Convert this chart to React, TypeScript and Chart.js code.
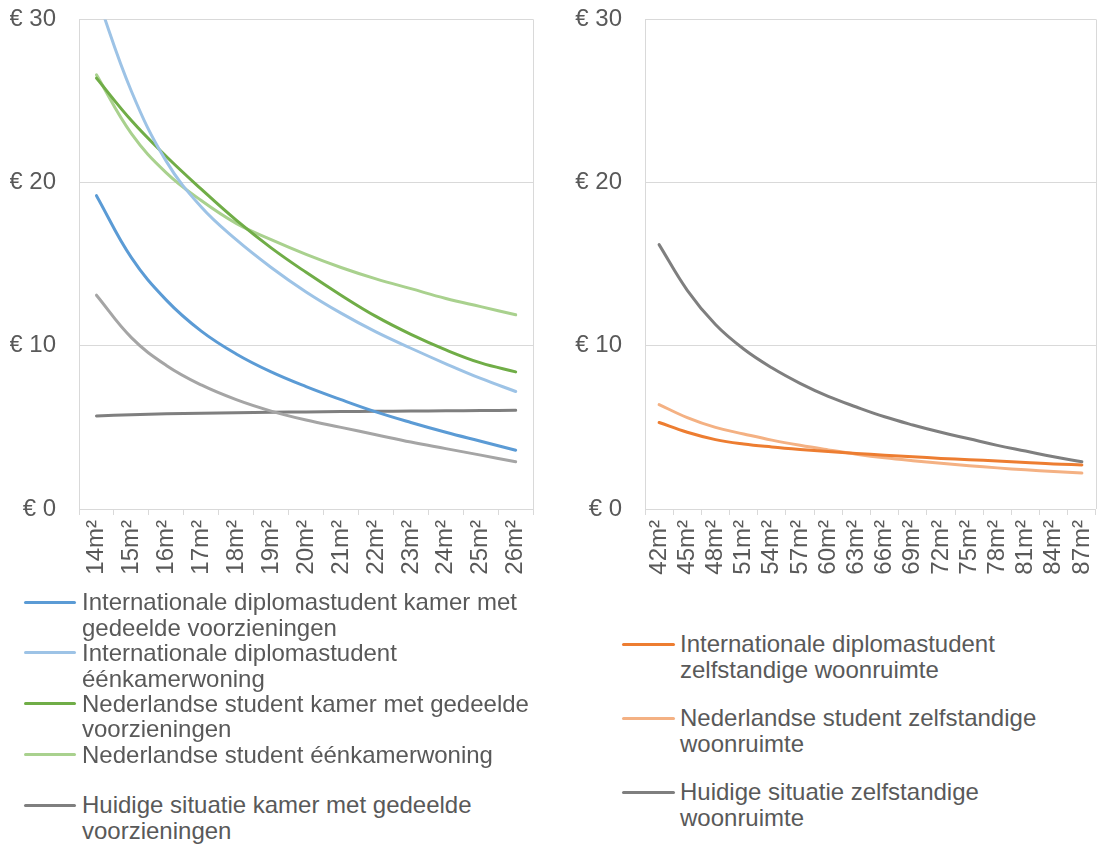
import React, { useEffect, useRef } from "react";
import { Chart, registerables } from "chart.js";

Chart.register(...registerables);

// ---------- data ----------
const leftCategories = ["14m²", "15m²", "16m²", "17m²", "18m²", "19m²", "20m²", "21m²", "22m²", "23m²", "24m²", "25m²", "26m²"];
const rightCategories = ["42m²", "45m²", "48m²", "51m²", "54m²", "57m²", "60m²", "63m²", "66m²", "69m²", "72m²", "75m²", "78m²", "81m²", "84m²", "87m²"];

const intlKamer = [19.2, 15.4, 12.8, 10.9, 9.5, 8.4, 7.5, 6.7, 5.95, 5.3, 4.7, 4.15, 3.6];
const intlEenkamer = [31.5, 25.6, 21.3, 18.5, 16.5, 14.8, 13.3, 12.0, 10.85, 9.85, 8.9, 8.0, 7.2];
const nlKamer = [26.4, 23.8, 21.6, 19.6, 17.7, 16.0, 14.5, 13.1, 11.8, 10.7, 9.75, 8.95, 8.4];
const nlEenkamer = [26.6, 23.0, 20.6, 18.9, 17.5, 16.5, 15.6, 14.8, 14.1, 13.5, 12.9, 12.4, 11.9];
const huidigEenkamer = [13.1, 10.5, 8.8, 7.6, 6.7, 6.0, 5.45, 5.0, 4.55, 4.1, 3.7, 3.3, 2.9];
const huidigKamer = [5.7, 5.78, 5.83, 5.87, 5.9, 5.93, 5.95, 5.97, 5.99, 6.0, 6.02, 6.03, 6.05];

const intlZelfstandig = [5.3, 4.7, 4.25, 3.98, 3.8, 3.65, 3.52, 3.4, 3.3, 3.2, 3.1, 3.02, 2.94, 2.85, 2.76, 2.7];
const nlZelfstandig = [6.4, 5.6, 5.0, 4.6, 4.22, 3.9, 3.62, 3.36, 3.14, 2.96, 2.8, 2.65, 2.52, 2.4, 2.3, 2.2];
const huidigZelfstandig = [16.2, 13.4, 11.3, 9.8, 8.65, 7.7, 6.9, 6.25, 5.65, 5.15, 4.7, 4.3, 3.9, 3.55, 3.2, 2.9];

const yMin = 0;
const yMax = 30;
const yStep = 10;

// ---------- series definitions ----------
type Series = { label: string; data: number[]; color: string; legend: boolean };

const leftSeries: Series[] = [
  { label: "Internationale diplomastudent kamer met gedeelde voorzieningen", data: intlKamer, color: "#5b9bd5", legend: true },
  { label: "Internationale diplomastudent éénkamerwoning", data: intlEenkamer, color: "#9dc3e6", legend: true },
  { label: "Nederlandse student kamer met gedeelde voorzieningen", data: nlKamer, color: "#70ad47", legend: true },
  { label: "Nederlandse student éénkamerwoning", data: nlEenkamer, color: "#a9d18e", legend: true },
  { label: "Huidige situatie éénkamerwoning", data: huidigEenkamer, color: "#a5a5a5", legend: false },
  { label: "Huidige situatie kamer met gedeelde voorzieningen", data: huidigKamer, color: "#7f7f7f", legend: true },
];

const rightSeries: Series[] = [
  { label: "Internationale diplomastudent zelfstandige woonruimte", data: intlZelfstandig, color: "#ed7d31", legend: true },
  { label: "Nederlandse student zelfstandige woonruimte", data: nlZelfstandig, color: "#f4b183", legend: true },
  { label: "Huidige situatie zelfstandige woonruimte", data: huidigZelfstandig, color: "#7f7f7f", legend: true },
];

// ---------- styling ----------
const FONT = '"Liberation Sans", Arial, Helvetica, sans-serif';
const TEXT = "#595959";
const GRID = "#d9d9d9";
const FS = 24;

const framePlugin = {
  id: "rightFrame",
  beforeDatasetsDraw(chart: any) {
    const { ctx, chartArea } = chart;
    ctx.save();
    ctx.strokeStyle = GRID;
    ctx.lineWidth = 1;
    ctx.beginPath();
    ctx.moveTo(Math.round(chartArea.right) + 0.5, chartArea.top);
    ctx.lineTo(Math.round(chartArea.right) + 0.5, chartArea.bottom);
    ctx.stroke();
    ctx.restore();
  },
};

type PanelProps = {
  labels: string[];
  series: Series[];
  width: number;
  height: number;
  padLeft: number;
  padRight: number;
  yAxisWidth: number;
  xAxisHeight: number;
};

function LinePanel({ labels, series, width, height, padLeft, padRight, yAxisWidth, xAxisHeight }: PanelProps) {
  const ref = useRef<HTMLCanvasElement | null>(null);
  useEffect(() => {
    if (!ref.current) return;
    const chart = new Chart(ref.current, {
      type: "line",
      data: {
        labels,
        datasets: series.map((s) => ({
          label: s.label,
          data: s.data,
          borderColor: s.color,
          backgroundColor: s.color,
          borderWidth: 3,
          pointRadius: 0,
          fill: false,
          tension: 0.4,
          borderCapStyle: "round" as const,
          clip: 0,
        })),
      },
      options: {
        animation: false,
        responsive: false,
        maintainAspectRatio: false,
        layout: { padding: { left: padLeft, right: padRight, top: 0, bottom: 0 } },
        plugins: { legend: { display: false }, tooltip: { enabled: false }, title: { display: false } },
        scales: {
          x: {
            offset: true,
            grid: { display: true, drawOnChartArea: false, drawTicks: true, tickLength: 6, color: GRID, offset: true },
            border: { display: true, color: GRID, width: 1 },
            ticks: {
              color: TEXT,
              font: { family: FONT, size: FS },
              minRotation: 90,
              maxRotation: 90,
              autoSkip: false,
              padding: 5,
            },
            afterFit: (scale: any) => {
              scale.height = xAxisHeight;
            },
          },
          y: {
            min: yMin,
            max: yMax,
            ticks: {
              stepSize: yStep,
              color: TEXT,
              font: { family: FONT, size: FS },
              padding: 23,
              callback: (v: any) => "€ " + v,
            },
            grid: { color: GRID, drawTicks: false, lineWidth: 1 },
            border: { display: true, color: GRID, width: 1 },
            afterFit: (scale: any) => {
              scale.width = yAxisWidth;
            },
          },
        },
      },
      plugins: [framePlugin],
    });
    return () => chart.destroy();
  }, []);
  return <canvas ref={ref} width={width} height={height} style={{ display: "block", width, height }} />;
}

type LegendProps = { series: Series[]; spacing: number; markerLeft: number; markerWidth: number; textLeft: number; textWidth: number; top: number };

function Legend({ series, spacing, markerLeft, markerWidth, textLeft, textWidth, top }: LegendProps) {
  const items = series.filter((s) => s.legend);
  const lh = 25.5;
  return (
    <>
      {items.map((s, i) => {
        const cy = top + i * spacing;
        return (
          <React.Fragment key={s.label}>
            <div
              style={{
                position: "absolute",
                left: markerLeft,
                top: cy - 1.5,
                width: markerWidth,
                height: 3,
                background: s.color,
                borderRadius: 1.5,
              }}
            />
            <div
              style={{
                position: "absolute",
                left: textLeft,
                top: cy - lh / 2,
                width: textWidth,
                fontFamily: FONT,
                fontSize: FS,
                lineHeight: lh + "px",
                color: TEXT,
              }}
            >
              {s.label}
            </div>
          </React.Fragment>
        );
      })}
    </>
  );
}

export default function App() {
  return (
    <div
      style={{
        position: "fixed",
        left: 0,
        top: 0,
        width: 1100,
        height: 845,
        overflow: "hidden",
        background: "#ffffff",
      }}
    >
      <div style={{ position: "absolute", left: 0, top: -18 }}>
        <LinePanel
          labels={leftCategories}
          series={leftSeries}
          width={550}
          height={607}
          padLeft={10}
          padRight={13}
          yAxisWidth={69}
          xAxisHeight={80}
        />
      </div>
      <div style={{ position: "absolute", left: 560, top: -18 }}>
        <LinePanel
          labels={rightCategories}
          series={rightSeries}
          width={556}
          height={607}
          padLeft={10}
          padRight={10}
          yAxisWidth={75}
          xAxisHeight={80}
        />
      </div>
      <Legend series={leftSeries} spacing={50.75} markerLeft={24} markerWidth={52} textLeft={82} textWidth={470} top={602} />
      <Legend series={rightSeries} spacing={74} markerLeft={622} markerWidth={53} textLeft={680} textWidth={395} top={644} />
    </div>
  );
}
